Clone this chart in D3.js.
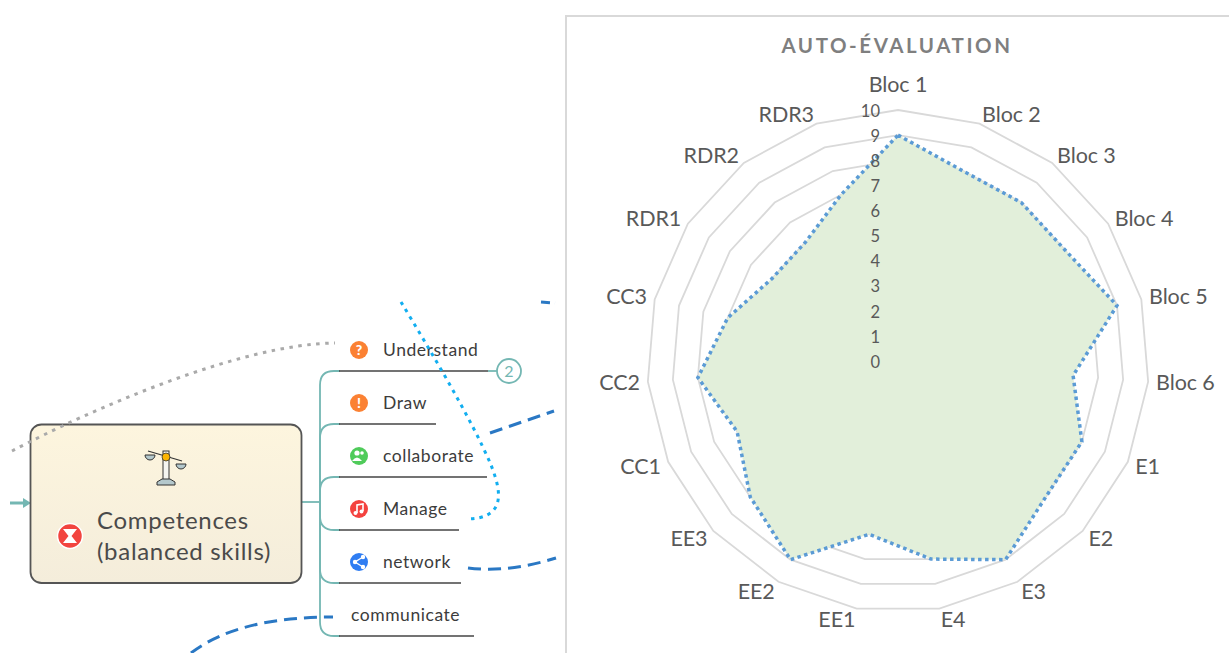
<!DOCTYPE html>
<html>
<head>
<meta charset="utf-8">
<script src="https://cdnjs.cloudflare.com/ajax/libs/d3/7.8.5/d3.min.js"></script>
<style>
  html, body { margin: 0; padding: 0; background: #fff; overflow: hidden; }
  svg { display: block; }
  .cat { font-family: Lato, sans-serif; font-size: 21.5px; fill: #595959; letter-spacing: -0.1px; }
  .val text { font-family: Lato, sans-serif; font-size: 16.5px; fill: #595959; }
  .title { font-family: Lato, sans-serif; font-size: 20.5px; font-weight: 700; fill: #7f7f7f; letter-spacing: 2.55px; }
  .node { font-family: Lato, sans-serif; font-size: 17.5px; fill: #3c3c3c; letter-spacing: 0.55px; }
  .main { font-family: Lato, sans-serif; font-size: 24px; fill: #4a4a4a; letter-spacing: 0.7px; }
</style>
</head>
<body>
<div id="chart"></div>
<script>
var categories = ['Bloc 1', 'Bloc 2', 'Bloc 3', 'Bloc 4', 'Bloc 5', 'Bloc 6', 'E1', 'E2', 'E3', 'E4',
  'EE1', 'EE2', 'EE3', 'CC1', 'CC2', 'CC3', 'RDR1', 'RDR2', 'RDR3'];
var scores = [9, 8, 8, 8, 9, 7, 8, 8, 9, 8, 7, 9, 8, 7, 8, 7, 6, 6, 7];
var ticks = [0, 1, 2, 3, 4, 5, 6, 7, 8, 9, 10];

// left part of the screenshot (mind map)
var branchNames = ['Understand', 'Draw', 'collaborate', 'Manage', 'network', 'communicate'];
var branchIcons = ['#fb8133', '#fb8133', '#4fcb5a', '#f4433f', '#2f7df2', null];
var branchGlyphs = ['?', '!', '', '', '', ''];
var branchLineY = [371, 424, 477, 530, 583, 636];
var branchLineEnd = [488, 436, 487, 459, 461, 474];

var width = 1229, height = 653;

var svg = d3.select('#chart').append('svg')
  .attr('width', width)
  .attr('height', height);

// ---- mind map ----
var defs = svg.append('defs');
var grad = defs.append('linearGradient').attr('id', 'boxFill')
  .attr('x1', 0).attr('y1', 0).attr('x2', 0).attr('y2', 1);
grad.append('stop').attr('offset', '0%').attr('stop-color', '#fdf5de');
grad.append('stop').attr('offset', '100%').attr('stop-color', '#f4eddb');

var teal = '#74b7b3';
var map = svg.append('g');

// branches from the trunk
branchLineY.forEach(function(y) {
  var up = y < 502 ? 1 : -1;
  map.append('path')
    .attr('d', 'M320,502V' + (y + up * 14) + 'Q320,' + y + ' 334,' + y + 'H340')
    .attr('fill', 'none').attr('stroke', teal).attr('stroke-width', 1.8);
});
map.append('path').attr('d', 'M301,502H320').attr('stroke', teal).attr('stroke-width', 1.8);
map.append('path').attr('d', 'M10,503H24').attr('stroke', teal).attr('stroke-width', 3);
map.append('path').attr('d', 'M23,498L31,503L23,508Z').attr('fill', teal);
map.append('path').attr('d', 'M488,371H497').attr('stroke', teal).attr('stroke-width', 1.8);
map.append('circle').attr('cx', 509).attr('cy', 371).attr('r', 12)
  .attr('fill', '#fff').attr('stroke', teal).attr('stroke-width', 1.8);
map.append('text').attr('x', 509).attr('y', 377).attr('text-anchor', 'middle')
  .style('font-family', 'Lato, sans-serif').style('font-size', '16px').attr('fill', teal).text('2');

map.selectAll('.underline').data(branchLineY).enter().append('line')
  .attr('class', 'underline')
  .attr('x1', 339)
  .attr('x2', function(d, i) { return branchLineEnd[i]; })
  .attr('y1', function(d) { return d; })
  .attr('y2', function(d) { return d; })
  .attr('stroke', '#444').attr('stroke-width', 1.6);

map.selectAll('.node').data(branchNames).enter().append('text')
  .attr('class', 'node')
  .attr('x', function(d, i) { return branchIcons[i] ? 383 : 351; })
  .attr('y', function(d, i) { return branchLineY[i] - 15; })
  .text(function(d) { return d; });

branchIcons.forEach(function(c, i) {
  if (!c) return;
  var cy = branchLineY[i] - 21;
  map.append('circle').attr('cx', 359).attr('cy', cy).attr('r', 9).attr('fill', c);
  if (branchGlyphs[i]) {
    map.append('text').attr('x', 359).attr('y', cy + 5).attr('text-anchor', 'middle')
      .style('font-family', 'Lato, sans-serif').style('font-size', '14px').style('font-weight', 900)
      .attr('fill', '#fff').text(branchGlyphs[i]);
  }
});
// collaborate glyph
map.append('circle').attr('cx', 357).attr('cy', 453).attr('r', 2.6).attr('fill', '#fff');
map.append('path').attr('d', 'M352,461Q357,454 362,461Z').attr('fill', '#fff');
map.append('circle').attr('cx', 362).attr('cy', 453).attr('r', 1.8).attr('fill', '#fff');
// manage glyph (note)
map.append('path').attr('d', 'M357,513V505L363,504V511').attr('fill', 'none').attr('stroke', '#fff').attr('stroke-width', 1.6);
map.append('circle').attr('cx', 355.5).attr('cy', 513).attr('r', 2).attr('fill', '#fff');
map.append('circle').attr('cx', 361.5).attr('cy', 511.5).attr('r', 2).attr('fill', '#fff');
// network glyph (share)
map.append('path').attr('d', 'M363,557L355,562L363,567').attr('fill', 'none').attr('stroke', '#fff').attr('stroke-width', 1.4);
[[363, 557], [355, 562], [363, 567]].forEach(function(p) {
  map.append('circle').attr('cx', p[0]).attr('cy', p[1]).attr('r', 2.2).attr('fill', '#fff');
});

// main box
map.append('rect').attr('x', 30.5).attr('y', 424.5).attr('width', 271).attr('height', 158.5).attr('rx', 11)
  .attr('fill', 'url(#boxFill)').attr('stroke', '#555').attr('stroke-width', 1.8);
map.append('text').attr('class', 'main').attr('x', 97).attr('y', 529).text('Competences');
map.append('text').attr('class', 'main').attr('x', 97).attr('y', 560).text('(balanced skills)');

map.append('circle').attr('cx', 70).attr('cy', 536).attr('r', 12.5)
  .attr('fill', '#f2443f').attr('stroke', '#fff').attr('stroke-width', 1.5);
map.append('path').attr('d', 'M63,529H77L71.5,536L77,543H63L68.5,536Z').attr('fill', '#fff');

// scales icon
map.append('rect').attr('x', 163).attr('y', 451).attr('width', 6).attr('height', 29).attr('fill', '#f5f5f0').attr('stroke', '#333');
map.append('path').attr('d', 'M157,485V482L162,479H170L175,482V485Z').attr('fill', '#b4c8cc').attr('stroke', '#333');
map.append('path').attr('d', 'M148,451L182,461').attr('stroke', '#333').attr('stroke-width', 1.2);
map.append('path').attr('d', 'M145,455A5,5 0 0 0 155,455Z').attr('fill', '#b4c8cc').attr('stroke', '#333');
map.append('path').attr('d', 'M176,464A5,5 0 0 0 186,464Z').attr('fill', '#b4c8cc').attr('stroke', '#333');
map.append('circle').attr('cx', 166).attr('cy', 457).attr('r', 4).attr('fill', '#fcb400').attr('stroke', '#333').attr('stroke-width', 0.8);

// links
var links = [
  { d: 'M12,451C90,410 240,344 335,343', color: '#aaaaaa', dash: '3.5 5.5' },
  { d: 'M401,302C430,350 472,420 491,465C500,488 509,519 466,519', color: '#12aef0', dash: '3.5 5' },
  { d: 'M490,433L554,411', color: '#2a78c4', dash: '13 7' },
  { d: 'M468,568C500,572 530,566 556,558', color: '#2a78c4', dash: '13 7' },
  { d: 'M191,653C225,627 275,617 333,617', color: '#2a78c4', dash: '13 7' },
  { d: 'M541,302L555,303', color: '#2a78c4', dash: '9 5' }
];
map.selectAll('.link').data(links).enter().append('path')
  .attr('class', 'link')
  .attr('d', function(d) { return d.d; })
  .attr('fill', 'none')
  .attr('stroke', function(d) { return d.color; })
  .attr('stroke-width', 3)
  .attr('stroke-dasharray', function(d) { return d.dash; });

// ---- radar panel ----
svg.append('path').attr('d', 'M566,653V16H1229')
  .attr('fill', 'none').attr('stroke', '#d9d9d9').attr('stroke-width', 2);

svg.append('text').attr('class', 'title')
  .attr('x', 897).attr('y', 53).attr('text-anchor', 'middle')
  .text('AUTO-ÉVALUATION');

var cx = 898, cy = 361, radius = 251;
var r = d3.scaleLinear().domain([0, 10]).range([0, radius]);
var angle = d3.scalePoint().domain(d3.range(categories.length + 1)).range([0, 2 * Math.PI]);

var radar = svg.append('g').attr('transform', 'translate(' + cx + ',' + cy + ')');

var ringLine = d3.lineRadial()
  .angle(function(d, i) { return angle(i); })
  .radius(function(d) { return r(d); })
  .curve(d3.curveLinearClosed);

radar.selectAll('.ring').data(ticks.slice(1)).enter().append('path')
  .attr('class', 'ring')
  .attr('d', function(t) { return ringLine(categories.map(function() { return t; })); })
  .attr('fill', 'none')
  .attr('stroke', '#d9d9d9')
  .attr('stroke-width', 1.8);

radar.append('path')
  .datum(scores)
  .attr('d', ringLine)
  .attr('fill', '#e2efda')
  .attr('stroke', '#5b9bd5')
  .attr('stroke-width', 3.5)
  .attr('stroke-dasharray', '3.5 3.5');

// value labels, no axis line
var yScale = d3.scaleLinear().domain([0, 10]).range([0, -radius]);
radar.append('g').attr('class', 'val')
  .attr('transform', 'translate(-18,1)')
  .call(d3.axisLeft(yScale).tickValues(ticks).tickSize(0).tickPadding(0).tickFormat(d3.format('d')))
  .call(function(g) { g.select('.domain').remove(); });

// category labels: anchored on a circle a bit outside the 10 ring
var labelR = radius + 8;
radar.selectAll('.cat').data(categories).enter().append('text')
  .attr('class', 'cat')
  .attr('x', function(d, i) { return labelR * Math.sin(angle(i)); })
  .attr('y', function(d, i) {
    if (i === 0) return -labelR - 18;
    return -labelR * Math.cos(angle(i)) * (Math.cos(angle(i)) < 0 ? 1.012 : 1.008);
  })
  .attr('dy', '0.35em')
  .attr('text-anchor', function(d, i) {
    if (i === 0) return 'middle';
    return i < categories.length / 2 ? 'start' : 'end';
  })
  .text(function(d) { return d; });
</script>
</body>
</html>
